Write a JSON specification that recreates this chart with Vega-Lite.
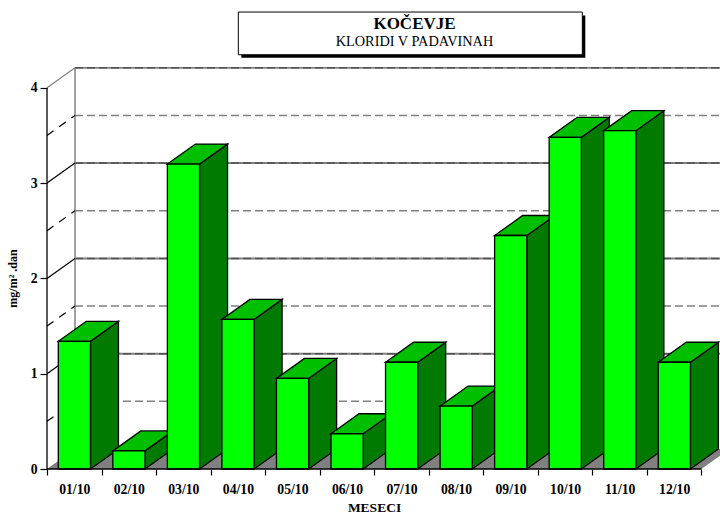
{
"$schema":"https://vega.github.io/schema/vega-lite/v6.json",
"width":673,"height":402,
"autosize":{"type":"none"},
"padding":{"left":47,"top":67,"right":0,"bottom":45},
"background":"white",
"config":{"view":{"stroke":null}},
"title":{"text":"KOČEVJE","subtitle":"KLORIDI V PADAVINAH","font":"Liberation Serif","fontWeight":"bold","fontSize":17,"color":"black","subtitleFont":"Liberation Serif","subtitleFontSize":14.3,"subtitleColor":"black","subtitlePadding":2,"anchor":"middle","frame":"group","dx":31,"offset":-39},
"datasets":{
"bars":[
{"month":"01/10","value":1.34},{"month":"02/10","value":0.19},{"month":"03/10","value":3.2},{"month":"04/10","value":1.57},
{"month":"05/10","value":0.95},{"month":"06/10","value":0.37},{"month":"07/10","value":1.12},{"month":"08/10","value":0.66},
{"month":"09/10","value":2.45},{"month":"10/10","value":3.48},{"month":"11/10","value":3.55},{"month":"12/10","value":1.12}],
"whole":[{"level":1},{"level":2},{"level":3},{"level":4}],
"half":[{"level":0.5},{"level":1.5},{"level":2.5},{"level":3.5}],
"one":[{"name":"floor"}]
},
"layer":[
{"data":{"name":"one"},
 "transform":[{"calculate":"[{x:0,y:0,y2:0},{x:0.5133,y:0,y2:0.21},{x:12,y:0,y2:0.21},{x:12.5133,y:0.21,y2:0.21}]","as":"v"},{"flatten":["v"]}],
 "mark":{"type":"area","orient":"vertical","color":"#808080","clip":true},
 "encoding":{
  "x":{"field":"v.x","type":"quantitative","scale":{"domain":[0,12.3395],"nice":false},
   "axis":{"values":[0,1,2,3,4,5,6,7,8,9,10,11,12],"grid":false,"domain":false,"tickColor":"black","tickSize":6,"tickWidth":1.2,"labelExpr":"datum.value<12?(datum.value<9?'0':'')+(datum.value+1)+'/10':''","labelOffset":27.27,"labelFont":"Liberation Serif","labelFontWeight":"bold","labelFontSize":13.7,"labelColor":"black","labelPadding":7,"labelOverlap":false,"labelBound":false,"labelFlush":false,"labelAngle":0,"title":"MESECI","titleFont":"Liberation Serif","titleFontWeight":"bold","titleFontSize":13.5,"titleColor":"black","titleX":327,"titleY":31}},
  "y":{"field":"v.y","type":"quantitative","scale":{"domain":[0,4.2183],"nice":false},
   "axis":{"values":[0,1,2,3,4],"grid":false,"domain":false,"tickColor":"black","tickSize":7,"tickWidth":1.2,"format":"d","labelFont":"Liberation Serif","labelFontWeight":"bold","labelFontSize":13.7,"labelColor":"black","labelPadding":3,"title":"mg/m² .dan","titleFont":"Liberation Serif","titleFontWeight":"bold","titleFontSize":12,"titleColor":"black","titleX":-28,"titleY":211}},
  "y2":{"field":"v.y2"}
 }},
{"data":{"name":"half"},"transform":[{"calculate":"datum.level+0.21","as":"back"}],
 "mark":{"type":"rule","color":"#808080","strokeWidth":1.5,"strokeDash":[8,4],"clip":true},
 "encoding":{"x":{"datum":0.5133,"type":"quantitative","scale":{"domain":[0,12.3395],"nice":false}},"x2":{"datum":12.5133},"y":{"field":"back","type":"quantitative","scale":{"domain":[0,4.2183],"nice":false}}}},
{"data":{"name":"whole"},"transform":[{"calculate":"datum.level+0.21","as":"back"}],
 "mark":{"type":"rule","color":"#808080","strokeWidth":2,"clip":true},
 "encoding":{"x":{"datum":0.5133,"type":"quantitative","scale":{"domain":[0,12.3395],"nice":false}},"x2":{"datum":12.5133},"y":{"field":"back","type":"quantitative","scale":{"domain":[0,4.2183],"nice":false}}}},
{"data":{"name":"whole"},"transform":[{"calculate":"datum.level+0.21","as":"back"}],
 "mark":{"type":"rule","color":"#505050","strokeWidth":1.5,"strokeDash":[8,4],"clip":true},
 "encoding":{"x":{"datum":0.5133,"type":"quantitative","scale":{"domain":[0,12.3395],"nice":false}},"x2":{"datum":12.5133},"y":{"field":"back","type":"quantitative","scale":{"domain":[0,4.2183],"nice":false}}}},
{"data":{"name":"one"},
 "mark":{"type":"rule","color":"#808080","strokeWidth":1.5},
 "encoding":{"x":{"datum":0.5133,"type":"quantitative","scale":{"domain":[0,12.3395],"nice":false}},"y":{"datum":0.21,"type":"quantitative","scale":{"domain":[0,4.2183],"nice":false}},"y2":{"datum":4.21}}},
{"data":{"name":"whole"},"transform":[{"calculate":"datum.level+0.21","as":"back"}],
 "mark":{"type":"rule","strokeWidth":1.2},
 "encoding":{"color":{"condition":{"test":"datum.level==4","value":"#808080"},"value":"black"},"x":{"datum":0,"type":"quantitative","scale":{"domain":[0,12.3395],"nice":false}},"x2":{"datum":0.5133},"y":{"field":"level","type":"quantitative","scale":{"domain":[0,4.2183],"nice":false}},"y2":{"field":"back"}}},
{"data":{"name":"half"},"transform":[{"calculate":"datum.level+0.21","as":"back"}],
 "mark":{"type":"rule","color":"black","strokeWidth":1.2,"strokeDash":[8,7]},
 "encoding":{"x":{"datum":0,"type":"quantitative","scale":{"domain":[0,12.3395],"nice":false}},"x2":{"datum":0.5133},"y":{"field":"level","type":"quantitative","scale":{"domain":[0,4.2183],"nice":false}},"y2":{"field":"back"}}},
{"data":{"name":"bars"},
 "transform":[
  {"calculate":"toNumber(substring(datum.month,0,2))-1","as":"i"},
  {"calculate":"datum.i+0.207","as":"a"},
  {"calculate":"datum.i+0.797","as":"b"},
  {"calculate":"[{f:0,x:datum.b,y:0,y2:datum.value},{f:0,x:datum.b+0.5133,y:0.21,y2:datum.value+0.21},{f:1,x:datum.a,y:datum.value,y2:datum.value},{f:1,x:datum.a+0.5133,y:datum.value,y2:datum.value+0.21},{f:1,x:datum.b,y:datum.value,y2:datum.value+0.21},{f:1,x:datum.b+0.5133,y:datum.value+0.21,y2:datum.value+0.21},{f:2,x:datum.a,y:0,y2:datum.value},{f:2,x:datum.b,y:0,y2:datum.value}]","as":"v"},
  {"flatten":["v"]},
  {"calculate":"datum.i*10+datum.v.f","as":"key"}
 ],
 "mark":{"type":"area","orient":"vertical","stroke":"black","strokeWidth":1.3,"fillOpacity":1},
 "encoding":{
  "x":{"field":"v.x","type":"quantitative","scale":{"domain":[0,12.3395],"nice":false}},
  "y":{"field":"v.y","type":"quantitative","scale":{"domain":[0,4.2183],"nice":false}},
  "y2":{"field":"v.y2"},
  "detail":{"field":"key","type":"nominal"},
  "fill":{"field":"v.f","type":"nominal","legend":null,"scale":{"domain":[0,1,2],"range":["#007A00","#00BF00","#00FF00"]}}
 }},
{"data":{"name":"one"},
 "mark":{"type":"rule","color":"black","strokeWidth":1.3},
 "encoding":{"x":{"datum":0,"type":"quantitative","scale":{"domain":[0,12.3395],"nice":false}},"y":{"datum":0,"type":"quantitative","scale":{"domain":[0,4.2183],"nice":false}},"y2":{"datum":4}}},
{"data":{"name":"one"},
 "mark":{"type":"rule","color":"black","strokeWidth":1.3},
 "encoding":{"x":{"datum":0,"type":"quantitative","scale":{"domain":[0,12.3395],"nice":false}},"x2":{"datum":12},"y":{"datum":0,"type":"quantitative","scale":{"domain":[0,4.2183],"nice":false}}}},
{"data":{"name":"one"},
 "mark":{"type":"rect","color":"black","clip":false},
 "encoding":{"x":{"datum":3.563,"type":"quantitative","scale":{"domain":[0,12.3395],"nice":false}},"x2":{"datum":9.87},"y":{"datum":4.316,"type":"quantitative","scale":{"domain":[0,4.2183],"nice":false}},"y2":{"datum":4.76}}},
{"data":{"name":"one"},
 "mark":{"type":"rect","fill":"white","stroke":"black","strokeWidth":1,"clip":false},
 "encoding":{"x":{"datum":3.508,"type":"quantitative","scale":{"domain":[0,12.3395],"nice":false}},"x2":{"datum":9.815},"y":{"datum":4.347,"type":"quantitative","scale":{"domain":[0,4.2183],"nice":false}},"y2":{"datum":4.795}}}
]
}
